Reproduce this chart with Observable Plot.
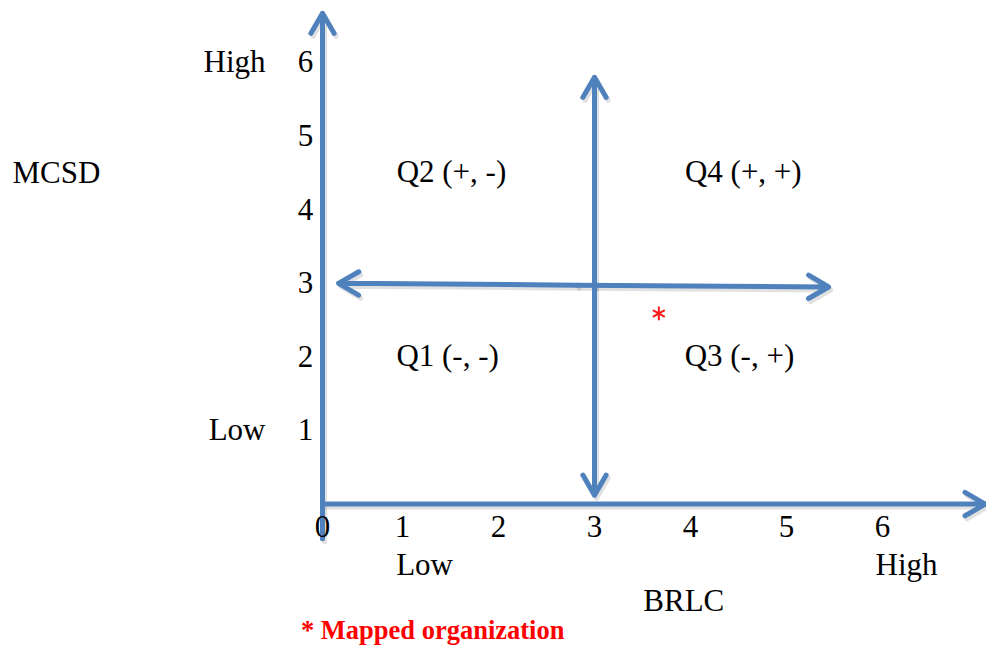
<!DOCTYPE html>
<html>
<head>
<meta charset="utf-8">
<script src="https://cdn.jsdelivr.net/npm/d3@7"></script>
<script src="https://cdn.jsdelivr.net/npm/@observablehq/plot@0.6"></script>
<style>
  html, body { margin: 0; padding: 0; background: #fff; }
  #chart { width: 986px; height: 647px; }
</style>
</head>
<body>
<div id="chart"></div>
<script>
// ---- data ----
const xTickValues = [0, 1, 2, 3, 4, 5, 6];
const yTickValues = [1, 2, 3, 4, 5, 6];

const quadrantLabels = ["Q1 (-, -)", "Q2 (+, -)", "Q3 (-, +)", "Q4 (+, +)"];
const quadrantX = [1.47, 1.51, 4.51, 4.55];
const quadrantY = [2.01, 4.51, 2.01, 4.51];

// arrows: [x1, y1, x2, y2, doubleHeaded]
const arrowNames = ["yAxis", "xAxis", "midVertical", "midHorizontal"];
const arrowX1 = [0, 0, 3, 0.2];
const arrowY1 = [-0.47, 0, 0.12, 3.0];
const arrowX2 = [0, 7.07, 3, 5.44];
const arrowY2 = [6.67, 0, 5.8, 2.95];
const arrowDouble = [false, false, true, true];

const mappedX = [3.67];
const mappedY = [2.59];

// ---- build arrow segments ----
const segs = [];
arrowNames.forEach((n, i) => {
  const x1 = arrowX1[i], y1 = arrowY1[i], x2 = arrowX2[i], y2 = arrowY2[i];
  if (arrowDouble[i]) {
    const mx = (x1 + x2) / 2, my = (y1 + y2) / 2;
    segs.push({x1: mx, y1: my, x2: x1, y2: y1});
    segs.push({x1: mx, y1: my, x2: x2, y2: y2});
  } else {
    segs.push({x1, y1, x2, y2});
  }
});

const serif = "'Liberation Serif', 'Times New Roman', Times, serif";
const blue = "#4f81bd";
const fs = 31;

// the original drawing squeezes the 0–1 interval slightly
const squeeze = v => (v < 1 ? 1 / 6 + v * 5 / 6 : v);

const chart = Plot.plot({
  width: 986,
  height: 647,
  margin: 0,
  style: {fontFamily: serif, background: "#fff", overflow: "visible"},
  x: {transform: squeeze, domain: [1 / 6, 6], range: [322, 882], axis: null},
  y: {domain: [0, 6], range: [503.6, 62], axis: null},
  marks: [
    // soft shadows
    Plot.arrow(segs, {x1: "x1", y1: "y1", x2: "x2", y2: "y2", stroke: "#777", strokeOpacity: 0.22, strokeWidth: 5, headLength: 7, dx: 2, dy: 3}),
    // arrows
    Plot.arrow(segs, {x1: "x1", y1: "y1", x2: "x2", y2: "y2", stroke: blue, strokeWidth: 5, headLength: 7}),
    // tick labels
    Plot.text(xTickValues, {x: d => d, y: 0, text: d => String(d), dy: 23, fontSize: fs, fill: "#000"}),
    Plot.text(yTickValues, {x: 0, y: d => d, text: d => String(d), dx: -17, fontSize: fs, fill: "#000"}),
    // axis end labels
    Plot.text(["High", "Low"], {x: 0, y: [6, 1], text: d => d, dx: -57, textAnchor: "end", fontSize: fs, fill: "#000"}),
    Plot.text(["Low", "High"], {x: [1.23, 6.25], y: -0.83, text: d => d, fontSize: fs, fill: "#000"}),
    Plot.text(["MCSD"], {frameAnchor: "left", dx: 12, y: 4.5, textAnchor: "start", text: d => d, fontSize: fs, fill: "#000"}),
    Plot.text(["BRLC"], {x: 3.93, y: -1.32, text: d => d, fontSize: fs, fill: "#000"}),
    // quadrant labels
    Plot.text(quadrantLabels, {x: (d, i) => quadrantX[i], y: (d, i) => quadrantY[i], text: d => d, fontSize: fs, fill: "#000"}),
    // mapped organization
    Plot.dot(mappedX, {x: d => d, y: (d, i) => mappedY[i], symbol: "asterisk", r: 6.5, stroke: "#ff1a1a", strokeWidth: 2}),
    Plot.text(["* Mapped organization"], {x: -0.27, y: -1.72, textAnchor: "start", text: d => d, fontSize: 26.5, fontWeight: "bold", fill: "#ff0000"})
  ]
});
document.getElementById("chart").appendChild(chart);
</script>
</body>
</html>
